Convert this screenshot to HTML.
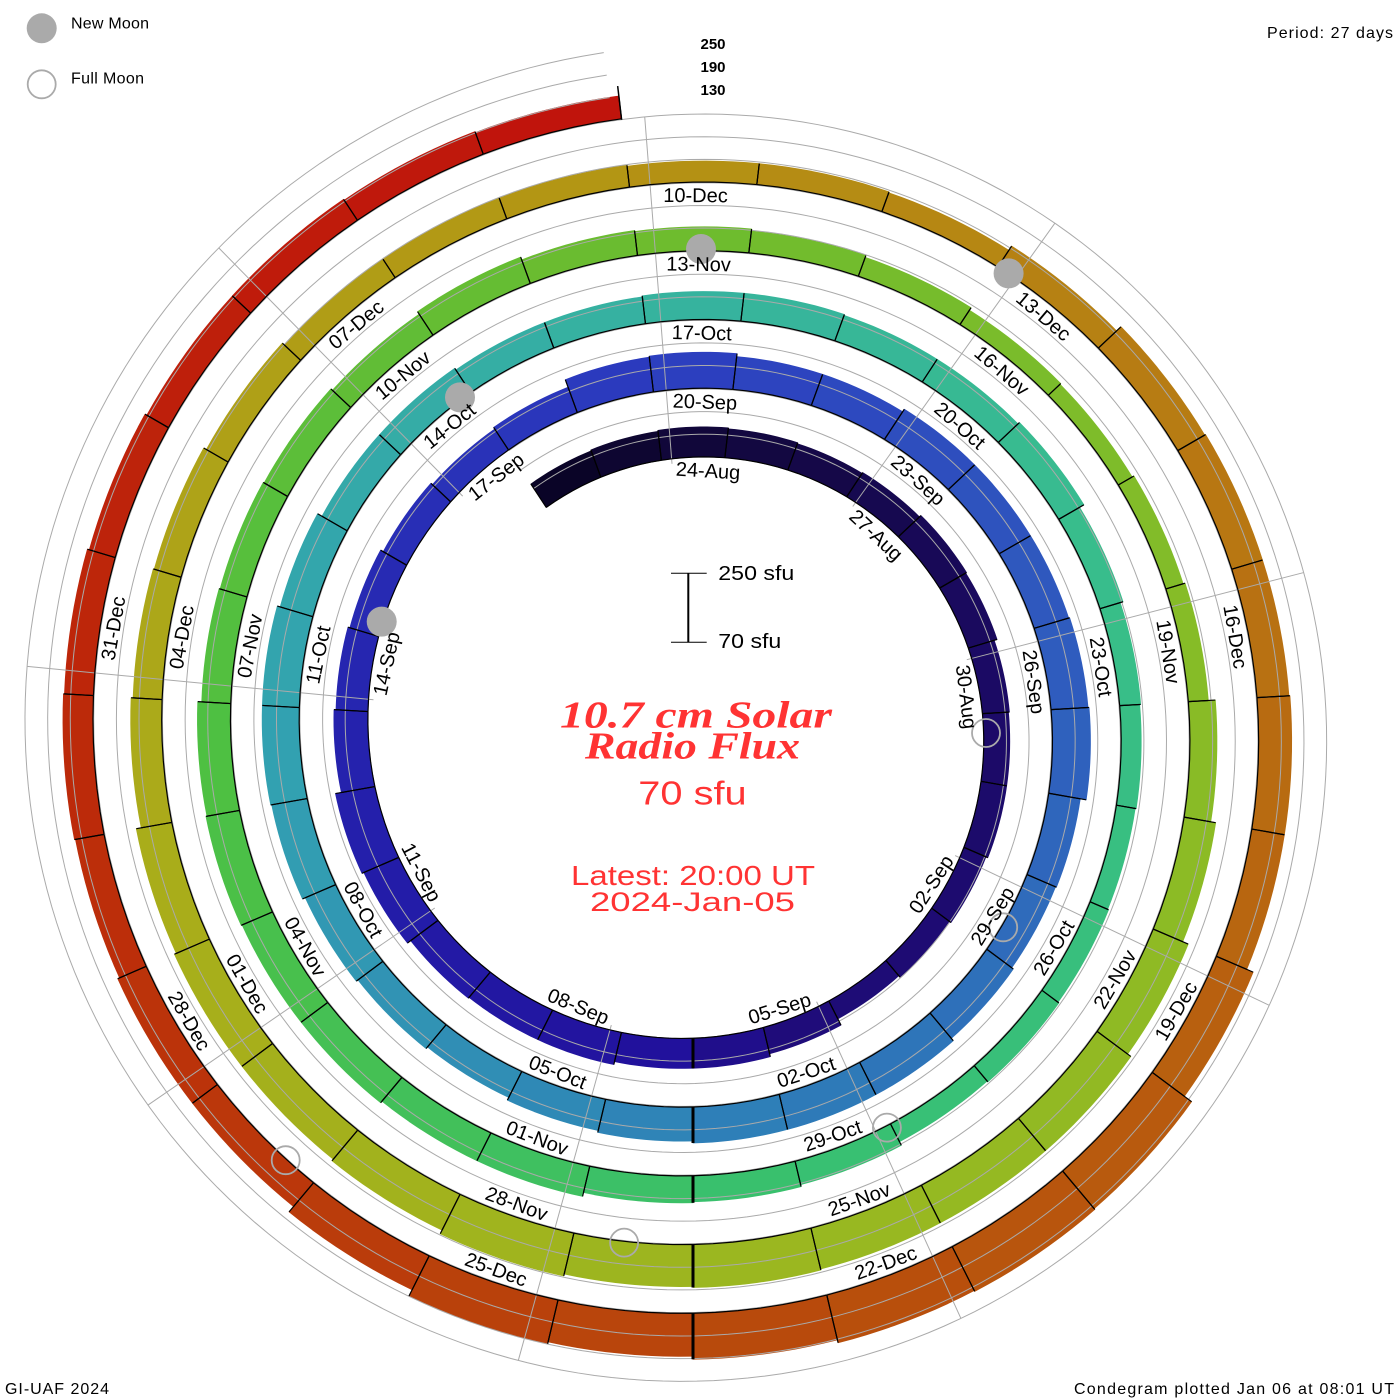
<!DOCTYPE html>
<html>
<head>
<meta charset="utf-8">
<style>
html,body{margin:0;padding:0;background:#fff;}
svg{display:block;}
</style>
</head>
<body>
<svg id="c" xmlns="http://www.w3.org/2000/svg" width="1400" height="1400" viewBox="0 0 1400 1400">
<rect x="0" y="0" width="1400" height="1400" fill="#ffffff"/>
<g id="bars"></g>
<g id="grid" fill="none" stroke="#aaaaaa" stroke-width="1"></g>
<g id="outl" fill="none" stroke="#000000" stroke-width="1.2"></g>

<!-- moons -->
<g fill="#aaaaaa">
 <circle cx="701" cy="249" r="15"/>
 <circle cx="1008.6" cy="273.4" r="15"/>
 <circle cx="460" cy="397.4" r="15"/>
 <circle cx="381.7" cy="621.6" r="15"/>
 <circle cx="41.7" cy="28.3" r="15"/>
</g>
<g fill="none" stroke="#aaaaaa" stroke-width="1.8">
 <circle cx="986" cy="733" r="14"/>
 <circle cx="1003.2" cy="927.3" r="14"/>
 <circle cx="886.9" cy="1127.6" r="14"/>
 <circle cx="624.1" cy="1242.6" r="14"/>
 <circle cx="285.7" cy="1160.2" r="14"/>
 <circle cx="41.7" cy="84.3" r="14"/>
</g>

<!-- date labels -->
<g transform="translate(693 730.5)" font-family="'Liberation Sans', sans-serif" font-size="20" text-anchor="middle" fill="#000">
<text transform="rotate(3.32)" x="0" y="-253.4">24-Aug</text>
<text transform="rotate(43.15)" x="0" y="-261.0">27-Aug</text>
<text transform="rotate(82.99)" x="0" y="-268.7">30-Aug</text>
<text transform="rotate(-57.16)" x="0" y="290.3">02-Sep</text>
<text transform="rotate(-17.31)" x="0" y="297.9">05-Sep</text>
<text transform="rotate(22.56)" x="0" y="305.6">08-Sep</text>
<text transform="rotate(62.43)" x="0" y="313.2">11-Sep</text>
<text transform="rotate(-77.70)" x="0" y="-306.9">14-Sep</text>
<text transform="rotate(-37.81)" x="0" y="-314.5">17-Sep</text>
<text transform="rotate(2.08)" x="0" y="-322.1">20-Sep</text>
<text transform="rotate(41.97)" x="0" y="-329.8">23-Sep</text>
<text transform="rotate(81.87)" x="0" y="-337.4">26-Sep</text>
<text transform="rotate(-58.23)" x="0" y="359.0">29-Sep</text>
<text transform="rotate(-18.32)" x="0" y="366.7">02-Oct</text>
<text transform="rotate(21.59)" x="0" y="374.3">05-Oct</text>
<text transform="rotate(61.50)" x="0" y="382.0">08-Oct</text>
<text transform="rotate(-78.58)" x="0" y="-375.6">11-Oct</text>
<text transform="rotate(-38.66)" x="0" y="-383.2">14-Oct</text>
<text transform="rotate(1.26)" x="0" y="-390.9">17-Oct</text>
<text transform="rotate(41.19)" x="0" y="-398.5">20-Oct</text>
<text transform="rotate(81.12)" x="0" y="-406.2">23-Oct</text>
<text transform="rotate(-58.95)" x="0" y="427.8">26-Oct</text>
<text transform="rotate(-19.01)" x="0" y="435.4">29-Oct</text>
<text transform="rotate(20.92)" x="0" y="443.1">01-Nov</text>
<text transform="rotate(60.86)" x="0" y="450.7">04-Nov</text>
<text transform="rotate(-79.20)" x="0" y="-444.4">07-Nov</text>
<text transform="rotate(-39.25)" x="0" y="-452.0">10-Nov</text>
<text transform="rotate(0.69)" x="0" y="-459.6">13-Nov</text>
<text transform="rotate(40.64)" x="0" y="-467.3">16-Nov</text>
<text transform="rotate(80.59)" x="0" y="-474.9">19-Nov</text>
<text transform="rotate(-59.46)" x="0" y="496.5">22-Nov</text>
<text transform="rotate(-19.51)" x="0" y="504.2">25-Nov</text>
<text transform="rotate(20.44)" x="0" y="511.8">28-Nov</text>
<text transform="rotate(60.39)" x="0" y="519.5">01-Dec</text>
<text transform="rotate(-79.65)" x="0" y="-513.1">04-Dec</text>
<text transform="rotate(-39.69)" x="0" y="-520.7">07-Dec</text>
<text transform="rotate(0.27)" x="0" y="-528.4">10-Dec</text>
<text transform="rotate(40.23)" x="0" y="-536.0">13-Dec</text>
<text transform="rotate(80.19)" x="0" y="-543.7">16-Dec</text>
<text transform="rotate(-59.85)" x="0" y="565.3">19-Dec</text>
<text transform="rotate(-19.89)" x="0" y="572.9">22-Dec</text>
<text transform="rotate(20.07)" x="0" y="580.6">25-Dec</text>
<text transform="rotate(60.04)" x="0" y="588.2">28-Dec</text>
<text transform="rotate(-80.00)" x="0" y="-581.9">31-Dec</text>
</g>

<!-- scale levels at top -->
<g font-family="'Liberation Sans', sans-serif" font-size="15" font-weight="bold" text-anchor="middle" fill="#000">
 <text x="713" y="49">250</text>
 <text x="713" y="72">190</text>
 <text x="713" y="95">130</text>
</g>

<!-- scale bar -->
<g stroke="#000">
 <line x1="688.3" y1="573.3" x2="688.3" y2="642.3" stroke-width="2"/>
 <line x1="671" y1="573.3" x2="706.7" y2="573.3" stroke-width="1"/>
 <line x1="671" y1="642.3" x2="706.7" y2="642.3" stroke-width="1"/>
</g>
<g font-family="'Liberation Sans', sans-serif" font-size="20" fill="#000">
 <text x="718.3" y="580" textLength="76" lengthAdjust="spacingAndGlyphs">250 sfu</text>
 <text x="718.3" y="648" textLength="63" lengthAdjust="spacingAndGlyphs">70 sfu</text>
</g>

<!-- centre title -->
<g fill="#ff3333">
 <text x="560" y="727.7" font-family="'Liberation Serif', serif" font-style="italic" font-weight="bold" font-size="38" textLength="272" lengthAdjust="spacingAndGlyphs">10.7 cm Solar</text>
 <text x="585" y="758.3" font-family="'Liberation Serif', serif" font-style="italic" font-weight="bold" font-size="38" textLength="215" lengthAdjust="spacingAndGlyphs">Radio Flux</text>
 <text x="638.3" y="804.3" font-family="'Liberation Sans', sans-serif" font-size="33" textLength="108.4" lengthAdjust="spacingAndGlyphs">70 sfu</text>
 <text x="571" y="885" font-family="'Liberation Sans', sans-serif" font-size="28" textLength="244" lengthAdjust="spacingAndGlyphs">Latest: 20:00 UT</text>
 <text x="590" y="911" font-family="'Liberation Sans', sans-serif" font-size="27" textLength="205" lengthAdjust="spacingAndGlyphs">2024-Jan-05</text>
</g>

<!-- legend & corners -->
<g font-family="'Liberation Sans', sans-serif" font-size="16" fill="#000">
 <text x="71" y="28.3" textLength="78" lengthAdjust="spacing">New Moon</text>
 <text x="71" y="83.3" textLength="73" lengthAdjust="spacing">Full Moon</text>
 <text x="1267" y="38" textLength="126" lengthAdjust="spacing">Period: 27 days</text>
 <text x="5" y="1394" textLength="104" lengthAdjust="spacing">GI-UAF 2024</text>
 <text x="1074" y="1394" textLength="320" lengthAdjust="spacing">Condegram plotted Jan 06 at 08:01 UT</text>
</g>
</svg>

<script>
(function(){
var NS="http://www.w3.org/2000/svg";
var cx=693,cy=730.5,A=239,S=68.75,D=360/27;
function R(p){return A+S*p/360;}
function P(p,r){var t=p*Math.PI/180;return (cx-r*Math.sin(t)).toFixed(2)+","+(cy+r*Math.cos(t)).toFixed(2);}
function el(tag,at,par){var e=document.createElementNS(NS,tag);for(var k in at){e.setAttribute(k,at[k]);}par.appendChild(e);return e;}
var hs=[
28,29,30,29,28,29,31,30,27,26,26,24,22,20,27,30,
30,33,33,34,38,40,34,32,30,27,25,27,35,36,33,33,36,36,36,37,38,32,31,33,36,36,36,
34,32,29,31,33,36,37,37,34,29,29,27,27,28,28,27,27,29,24,21,20,19,20,21,20,24,26,
27,31,31,33,33,34,33,29,28,27,25,28,25,24,22,20,17,16,18,20,27,32,38,42,42,42,43,
42,44,40,38,38,36,31,29,28,25,22,22,22,21,21,20,25,31,32,32,33,33,40,49,50,49,46,
43,45,38,31,31,29,30,29,27,25,25,24,23];
var N0=11,N1=147;
function H(n){return hs[n-N0];}
var ck=[[11,"#080322"],[13,"#100736"],[19,"#1b0a62"],[26,"#1f0c7c"],[27,"#21109a"],[33,"#2420ac"],[40,"#2c3cbf"],[46,"#2f5abe"],[53,"#2e7cb8"],[60,"#32a0b2"],[67,"#36b2a0"],[73,"#38be8a"],[80,"#38c070"],[87,"#4cc044"],[94,"#6cbc2e"],[100,"#84bc28"],[107,"#9ab820"],[114,"#aaac1a"],[121,"#b49414"],[127,"#b87412"],[134,"#b84c0c"],[141,"#bc2c0a"],[148,"#c0120c"]];
function hx(c){return [parseInt(c.substr(1,2),16),parseInt(c.substr(3,2),16),parseInt(c.substr(5,2),16)];}
function col(n){
 if(n<=ck[0][0])return ck[0][1];
 for(var i=0;i<ck.length-1;i++){
  if(n<=ck[i+1][0]){
   var a=hx(ck[i][1]),b=hx(ck[i+1][1]),f=(n-ck[i][0])/(ck[i+1][0]-ck[i][0]);
   return "rgb("+Math.round(a[0]+(b[0]-a[0])*f)+","+Math.round(a[1]+(b[1]-a[1])*f)+","+Math.round(a[2]+(b[2]-a[2])*f)+")";
  }
 }
 return ck[ck.length-1][1];
}
var gb=document.getElementById("bars"),gg=document.getElementById("grid"),go=document.getElementById("outl");
var n,s,p;
/* bars */
for(n=N0;n<=N1;n++){
 var h=H(n),p0=n*D,o=[],inn=[],st=10;
 for(s=0;s<=st;s++){p=p0+D*s/st;o.push(P(p,R(p)+h));inn.unshift(P(p,R(p)));}
 var c=col(n+0.5);
 el("polygon",{points:o.concat(inn).join(" "),fill:c,stroke:c,"stroke-width":"0.8","stroke-linejoin":"round"},gb);
}
/* spiral grid */
var pS=N0*D,pE=1972.5;
[22.7,45.3,68].forEach(function(off){
 var a=[];for(var q=pS;q<pE;q+=1.5){a.push(P(q,R(q)+off));}
 a.push(P(pE,R(pE)+off));
 el("polyline",{points:a.join(" ")},gg);
});
/* radial lines */
var pEnd=(N1+1)*D;
for(var m=0;m<9;m++){
 var th=(175.5+40*m)%360;
 var pi=th>=pS?th:th+360;
 var po=th+360*Math.floor((pEnd-th)/360);
 var a1=P(pi,R(pi)-5).split(","),a2=P(po,R(po)+68).split(",");
 el("line",{x1:a1[0],y1:a1[1],x2:a2[0],y2:a2[1]},gg);
}
/* outlines */
for(n=N0;n<=N1;n++){
 var hh=H(n),q0=n*D,q1=q0+D,b=[];
 for(s=0;s<=6;s++){p=q0+D*s/6;b.push(P(p,R(p)));}
 el("polyline",{points:b.join(" ")},go);
 el("polyline",{points:P(q0,R(q0))+" "+P(q0,R(q0)+hh)},go);
 el("polyline",{points:P(q1,R(q1))+" "+P(q1,R(q1)+hh)},go);
}
for(var k=1;k<=5;k++){
 p=360*k;n=27*k;
 var mh=Math.max(H(n-1),H(n));
 el("polyline",{points:P(p,R(p))+" "+P(p,R(p)+mh),"stroke-width":"3"},go);
}
p=pEnd;
el("polyline",{points:P(p,R(p)-1)+" "+P(p,R(p)+H(N1)+10),"stroke-width":"1.5"},go);
})();
</script>
</body>
</html>
